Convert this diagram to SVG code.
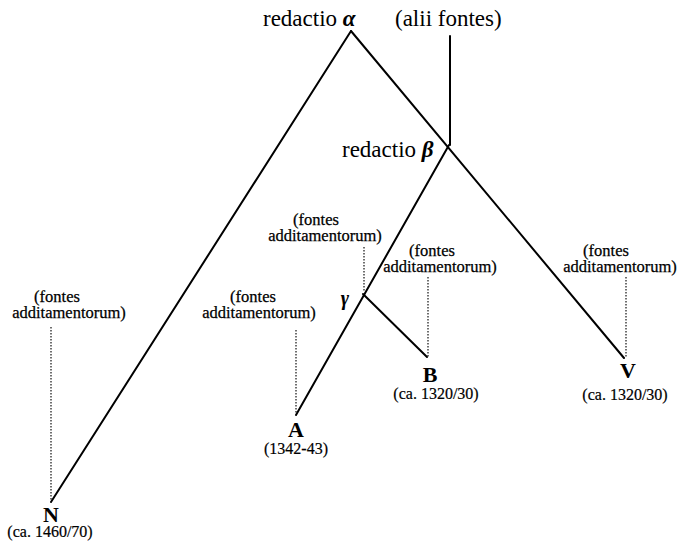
<svg xmlns="http://www.w3.org/2000/svg" width="679" height="549" viewBox="0 0 679 549">
<style>
text{font-family:"Liberation Serif","Times New Roman",serif;fill:#000}
.big{font-size:23px}
.gr{font-weight:bold;font-style:italic}
.src{font-size:16.5px;text-anchor:middle;stroke:#000;stroke-width:0.25}
.node{font-size:22px;font-weight:bold;text-anchor:middle}
.date{font-size:16px;text-anchor:middle;stroke:#000;stroke-width:0.2}
.ln{stroke:#000;stroke-width:2;fill:none;stroke-linecap:round}
.dot{stroke:#222;stroke-width:1.3;stroke-dasharray:1.5 1.5;fill:none}
</style>
<rect width="679" height="549" fill="#fff"/>
<g id="connectors">
<line class="ln" x1="351" y1="31" x2="51" y2="502"/>
<line class="ln" x1="351" y1="31" x2="624" y2="358"/>
<line class="ln" x1="450" y1="36" x2="450" y2="145"/>
<line class="ln" x1="449" y1="145" x2="296" y2="415"/>
<line class="ln" x1="363" y1="294" x2="427" y2="357"/>
<line class="dot" x1="51" y1="327" x2="51" y2="500"/>
<line class="dot" x1="296" y1="330" x2="296" y2="413"/>
<line class="dot" x1="364" y1="247" x2="364" y2="292"/>
<line class="dot" x1="428" y1="277" x2="428" y2="357"/>
<line class="dot" x1="626" y1="277" x2="626" y2="357"/>
</g>
<g id="alpha"><text class="big" x="263" y="26">redactio <tspan class="gr">α</tspan></text></g>
<g id="alii"><text class="big" x="395" y="26">(alii fontes)</text></g>
<g id="beta"><text class="big" x="342" y="157">redactio <tspan class="gr">β</tspan></text></g>
<g id="gamma"><text x="345" y="305" style="font-size:20px;font-weight:bold;font-style:italic;text-anchor:middle">γ</text></g>
<g id="src-gamma"><text class="src" x="316" y="225">(fontes</text><text class="src" x="325" y="241">additamentorum)</text></g>
<g id="src-B"><text class="src" x="432" y="256">(fontes</text><text class="src" x="440" y="272">additamentorum)</text></g>
<g id="src-A"><text class="src" x="253" y="302">(fontes</text><text class="src" x="259" y="318">additamentorum)</text></g>
<g id="src-N"><text class="src" x="57" y="302">(fontes</text><text class="src" x="69" y="318">additamentorum)</text></g>
<g id="src-V"><text class="src" x="606" y="256">(fontes</text><text class="src" x="620" y="272">additamentorum)</text></g>
<g id="N"><text class="node" x="51" y="522">N</text><text class="date" x="50" y="537">(ca. 1460/70)</text></g>
<g id="A"><text class="node" x="296" y="437">A</text><text class="date" x="296" y="454">(1342-43)</text></g>
<g id="B"><text class="node" x="430" y="382">B</text><text class="date" x="436" y="399">(ca. 1320/30)</text></g>
<g id="V"><text class="node" x="628" y="378">V</text><text class="date" x="625" y="400">(ca. 1320/30)</text></g>
</svg>
